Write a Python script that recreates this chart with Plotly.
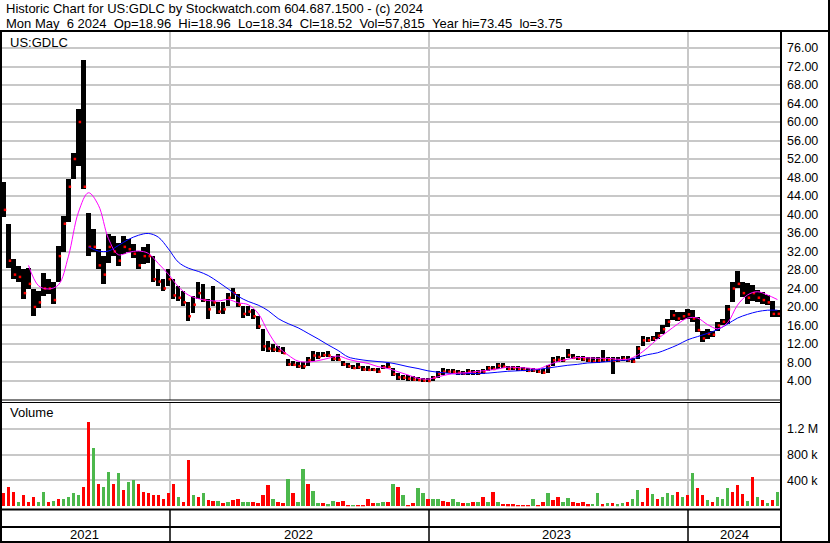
import plotly.graph_objs as go
import pandas as pd

W, H = 830, 543

# weekly samples (May 2021 -> May 6 2024)
weeks = pd.date_range(start="2021-05-12", end="2024-05-06", periods=156)

high = [47, 38, 30.3, 28.9, 28.2, 28.5, 23.9, 23.4, 27.4, 26,
        25.3, 33.2, 39.7, 47.6, 53.4, 62.8, 73.45, 40.4, 36.8, 32.5,
        31, 35.8, 35.4, 33.9, 35.4, 34.6, 33.6, 32.1, 32.9, 33.6,
        31.1, 28.2, 26, 28.2, 26, 24.6, 23.5, 21, 22.4, 25.3,
        25, 21.7, 24.6, 21, 21, 23.1, 24.2, 22.8, 20.3, 20.3,
        19.5, 18.1, 15.2, 12.7, 12, 11.6, 11.3, 8.7, 8.4, 8,
        8, 9.1, 10.5, 10.2, 10.2, 10.5, 9.4, 9.8, 8.3, 7.9,
        7.5, 7.9, 7.2, 7.2, 6.8, 6.8, 7.5, 7.9, 6.8, 5.7,
        5.4, 5.2, 5, 4.9, 4.6, 4.6, 5, 6.1, 6.8, 6.6,
        6.5, 6.3, 6.1, 6.5, 6.3, 6.3, 6.5, 7.3, 7.2, 7.9,
        7.9, 7.2, 7.3, 7.2, 7, 6.8, 6.8, 6.6, 6.5, 7.5,
        9.1, 9.3, 9.1, 10.9, 9.8, 9.5, 9.3, 9.1, 9.1, 9.1,
        10.8, 9.1, 9.1, 9.1, 9.3, 9.3, 8.9, 11.6, 13.8, 13.5,
        13.8, 14.5, 16, 17.5, 19.3, 18.9, 18.9, 19.6, 19.3, 17.8,
        14.9, 15.3, 14.9, 16.7, 17.5, 20.4, 25.5, 27.8, 25.5, 25.1,
        24.7, 23.6, 23.3, 22.5, 21.4, 19.3]
low = [39.5, 28.5, 26, 25.3, 21.7, 23.9, 18.1, 19.8, 22.4, 22.8,
       20.6, 25.3, 31.8, 38.3, 47.6, 50.5, 45.5, 31, 31.8, 28.2,
       24.9, 29.6, 31, 28.9, 31.4, 31.8, 30.6, 28.2, 29.3, 29.6,
       25.3, 24.6, 23.5, 24.6, 21.7, 21.3, 20.3, 17, 18.8, 21.7,
       21, 17.4, 20.3, 18.5, 18.5, 20.3, 21.7, 19.9, 17.7, 18.1,
       17.4, 15.2, 10.5, 10.2, 10.2, 10.2, 9.8, 7.3, 7.3, 6.9,
       6.7, 7.3, 8.4, 8.7, 9.1, 9.1, 8.4, 8.4, 7.2, 6.8,
       6.5, 6.5, 6.1, 6.1, 6.1, 5.7, 6.5, 6.8, 5, 4.3,
       4.3, 4.1, 3.9, 3.9, 3.8, 3.75, 3.9, 4.6, 5.4, 5.7,
       5.6, 5.4, 5.2, 5.4, 5.3, 5.2, 5.6, 6.1, 6.3, 6.6,
       6.8, 6.3, 6.3, 6.1, 6.1, 5.9, 5.9, 5.7, 5.5, 5.7,
       7.3, 8, 8.1, 8.9, 8.7, 8.6, 8.4, 8.1, 7.9, 7.9,
       8.1, 8.1, 5.5, 8.1, 8.4, 8.1, 7.9, 8.7, 11.6, 12.4,
       12.7, 13.1, 14.2, 15.6, 17.1, 16.9, 17.1, 17.5, 16.7, 14.5,
       12.4, 13.1, 13.5, 14.9, 16, 16.4, 21.1, 24, 22.2, 20.7,
       21.4, 21.1, 20.7, 20.4, 17.8, 17.8]
close = [41, 30, 27, 26.5, 23, 25, 20, 21, 24, 24,
         21.5, 31, 38, 46, 52, 60, 46, 33, 33, 29,
         27, 33, 32, 30, 33, 32.5, 31.5, 29, 31, 31,
         26, 25.5, 24, 26, 22.5, 22, 21, 18, 20.5, 23,
         21.5, 19.5, 21, 19, 19.5, 22, 23, 20.5, 18.5, 19,
         18, 15.8, 11.5, 11, 10.8, 10.5, 10, 7.6, 7.5, 7.2,
         7.2, 8.5, 9.5, 9.2, 9.6, 9.5, 8.8, 8.6, 7.6, 7.2,
         6.8, 7, 6.5, 6.4, 6.4, 6, 7, 7, 5.5, 4.8,
         4.7, 4.5, 4.3, 4.2, 4.1, 4, 4.7, 5.6, 6, 6,
         6, 5.8, 5.6, 6, 5.8, 5.7, 6, 6.8, 6.6, 7.3,
         7.1, 6.6, 6.8, 6.5, 6.4, 6.2, 6.3, 6, 5.8, 7,
         8.5, 8.6, 8.5, 9.6, 9, 8.9, 8.7, 8.4, 8.2, 8.4,
         8.6, 8.5, 8.4, 8.5, 8.8, 8.5, 8.2, 11, 12.8, 12.8,
         13.2, 13.8, 15.2, 16.8, 18.2, 17.5, 18, 18.4, 17.5, 15,
         13.2, 14.2, 14, 16, 16.8, 19.5, 24, 25, 23, 22,
         23, 22, 21.5, 21, 18.5, 18.52]

# volume in thousands, and whether the day was up (1) or down (0)
volume_k = [200, 300, 225, 70, 180, 60, 150, 70, 220, 60,
            80, 110, 110, 150, 200, 170, 300, 1300, 900, 340,
            300, 530, 350, 520, 250, 370, 400, 350, 220, 210,
            180, 170, 120, 200, 340, 150, 70, 710, 170, 150,
            210, 100, 80, 80, 45, 70, 100, 110, 60, 70,
            60, 45, 170, 330, 110, 60, 45, 420, 200, 60,
            575, 350, 240, 45, 45, 30, 80, 60, 80, 20,
            25, 25, 25, 120, 45, 45, 60, 70, 350, 300,
            170, 20, 45, 280, 200, 110, 120, 120, 80, 70,
            120, 60, 45, 45, 60, 70, 150, 70, 225, 60,
            40, 30, 30, 20, 20, 20, 110, 20, 60, 200,
            100, 150, 70, 130, 60, 45, 60, 30, 40, 200,
            30, 45, 45, 30, 45, 70, 110, 250, 70, 280,
            195, 110, 150, 200, 170, 225, 150, 170, 510, 280,
            170, 100, 70, 150, 120, 280, 225, 330, 185, 80,
            456, 150, 100, 45, 100, 225]
vol_up = [0, 0, 0, 1, 0, 0, 0, 1, 1, 0,
          1, 0, 1, 1, 1, 1, 0, 0, 1, 0,
          1, 1, 0, 1, 0, 1, 1, 0, 0, 0,
          0, 0, 0, 0, 0, 1, 0, 0, 1, 0,
          1, 0, 0, 1, 0, 1, 0, 0, 1, 1,
          0, 0, 0, 0, 1, 0, 0, 1, 0, 1,
          1, 0, 1, 1, 0, 1, 1, 0, 0, 0,
          1, 0, 0, 0, 0, 1, 1, 0, 1, 0,
          1, 0, 0, 1, 1, 0, 1, 1, 0, 0,
          1, 1, 0, 1, 0, 1, 0, 1, 0, 1,
          0, 0, 0, 0, 0, 0, 1, 0, 0, 1,
          0, 0, 1, 1, 0, 0, 0, 0, 1, 1,
          0, 1, 0, 1, 1, 0, 1, 1, 0, 0,
          1, 0, 1, 1, 1, 0, 1, 0, 1, 0,
          0, 1, 0, 1, 1, 1, 0, 0, 0, 1,
          0, 1, 0, 1, 0, 1]

# moving averages read every second week
ma_fast = [29, 24.6, 23.9, 24.8, 31, 40.5, 44.7, 42, 34.8, 31.3,
           31.8, 32.1, 31.6, 29.4, 27.1, 24.4, 22.6, 21.8, 21.4, 21.3,
           21.6, 20.9, 20.5, 18.6, 14.6, 11.4, 9.6, 8.3, 8.1, 8.4,
           8.9, 9.4, 8.7, 8.2, 7.8, 7.1, 6.7, 6.0, 5.3, 4.6,
           4.4, 4.9, 5.4, 5.7, 5.8, 6.1, 6.3, 6.6, 7.0, 6.9,
           6.8, 6.6, 7.4, 8.2, 8.7, 9.1, 9.0, 8.9, 8.9, 8.7,
           8.7, 9.6, 11.2, 13.1, 14.7, 16.3, 17.6, 17.6, 16.2, 15.3,
           16.6, 20.4, 22.6, 23.3, 22.6, 21.6]
ma_slow = [33, 32.1, 32.1, 33.3, 34.6, 35.5, 35.9, 35.1, 32.6, 29.7,
           28.4, 27.7, 26.8, 25.4, 23.9, 22.3, 21.2, 20.4, 19.2, 17.5,
           16.4, 15.5, 14.3, 13.1, 11.8, 10.6, 9.2, 8.7, 8.4, 8.2,
           8.0, 7.6, 7.1, 6.7, 6.2, 5.9, 5.7, 5.5, 5.6, 5.6,
           5.7, 5.9, 6.1, 6.2, 6.3, 6.5, 6.8, 7.1, 7.4, 7.6,
           7.9, 8.0, 8.2, 8.5, 8.5, 9.1, 9.7, 10.1, 10.9, 11.8,
           12.9, 13.6, 14.3, 15.1, 16.3, 17.6, 18.4, 19.0, 19.3, 19.3]

price_ticks = list(range(4, 77, 4))
year_starts = ["2022-01-01", "2023-01-01", "2024-01-01"]
year_labels = ["2021", "2022", "2023", "2024"]

header1 = "Historic Chart for US:GDLC by Stockwatch.com 604.687.1500 - (c) 2024"
header2 = ("Mon May\u00a0\u00a06 2024\u00a0\u00a0Op=18.96\u00a0\u00a0Hi=18.96\u00a0\u00a0"
           "Lo=18.34\u00a0\u00a0Cl=18.52\u00a0\u00a0Vol=57,815\u00a0\u00a0Year hi=73.45\u00a0\u00a0lo=3.75")

FONT = "Liberation Sans, Arial, sans-serif"
GRID = "#c8c8c8"
DAY = 86400000


def px(x):
    return x / W


def py(y):
    return 1 - y / H


fig = go.Figure()
fig.add_trace(go.Bar(x=weeks, y=[h - l for h, l in zip(high, low)], base=low,
                     width=6 * DAY, marker=dict(color="black", line=dict(width=0)),
                     xaxis="x", yaxis="y"))
fig.add_trace(go.Scatter(x=weeks + pd.Timedelta(days=2), y=close, mode="markers",
                         marker=dict(symbol="square", size=2.5, color="#ff0000", line=dict(width=0)),
                         xaxis="x", yaxis="y"))
fig.add_trace(go.Scatter(x=weeks[17::2], y=ma_slow, mode="lines",
                         line=dict(color="#0000ff", width=1, shape="spline"),
                         xaxis="x", yaxis="y"))
fig.add_trace(go.Scatter(x=weeks[5::2], y=ma_fast, mode="lines",
                         line=dict(color="#ff00ff", width=1, shape="spline"),
                         xaxis="x", yaxis="y"))
fig.add_trace(go.Bar(x=weeks, y=volume_k, width=5 * DAY,
                     marker=dict(color=["#4cb84c" if u else "#ff0000" for u in vol_up], line=dict(width=0)),
                     xaxis="x2", yaxis="y2"))

xrange = ["2021-05-09 19:00", "2024-05-11"]
xcommon = dict(type="date", range=xrange, domain=[px(2), px(781)], tickvals=year_starts,
               showticklabels=False, ticks="", showgrid=True, gridcolor=GRID, gridwidth=1.5,
               zeroline=False, showline=False, fixedrange=True)

fig.update_layout(
    width=W, height=H,
    margin=dict(l=0, r=0, t=0, b=0),
    paper_bgcolor="white", plot_bgcolor="white",
    showlegend=False, bargap=0,
    font=dict(family=FONT, size=13, color="black"),
    xaxis=dict(anchor="y", **xcommon),
    xaxis2=dict(anchor="y2", matches="x", **xcommon),
    yaxis=dict(domain=[py(400), py(32)], range=[-0.11, 79.46], side="right",
               tickvals=price_ticks, ticktext=[f"{v:.2f}" for v in price_ticks],
               tickfont=dict(family=FONT, size=12.5, color="black"), ticklabelstandoff=5,
               showgrid=True, gridcolor=GRID, gridwidth=1.5, zeroline=False, fixedrange=True),
    yaxis2=dict(domain=[py(506.3), py(402)], range=[0, 1615], side="right",
                tickvals=[400, 800, 1200], ticktext=["400 k", "800 k", "1.2 M"],
                tickfont=dict(family=FONT, size=12.5, color="black"), ticklabelstandoff=5,
                showgrid=True, gridcolor=GRID, gridwidth=1.5, zeroline=False, fixedrange=True),
)

# frame lines
lines = [
    (0, 31, W, 31, 2),        # under header
    (1, 31, 1, H, 2),         # left border
    (781, 31, 781, H, 2),     # right edge of plot
    (829, 0, 829, H, 2),      # outer right border
    (0, 400, 781, 400, 1),    # double line under price
    (0, 402.5, 781, 402.5, 1),
    (0, 509.5, 781, 509.5, 2),  # under volume
    (0, 527, 781, 527, 2),
    (0, 542, W, 542, 2),
]
for x0, y0, x1, y1, w in lines:
    fig.add_shape(type="line", xref="paper", yref="paper", x0=px(x0), y0=py(y0),
                  x1=px(x1), y1=py(y1), line=dict(color="black", width=w))
for xs in [170, 429, 688]:
    fig.add_shape(type="line", xref="paper", yref="paper", x0=px(xs), y0=py(510),
                  x1=px(xs), y1=py(542), line=dict(color="black", width=1.5))

texts = [
    (4, 9, header1),
    (4, 23, header2),
    (8, 42, "US:GDLC"),
    (8, 413, "Volume"),
]
for x, y, t in texts:
    fig.add_annotation(x=px(x), y=py(y), xref="paper", yref="paper", text=t, showarrow=False,
                       xanchor="left", yanchor="middle", font=dict(family=FONT, size=13, color="black"))

year_centers = [84, 298, 556, 734]
for xc, t in zip(year_centers, year_labels):
    fig.add_annotation(x=px(xc), y=py(534.5), xref="paper", yref="paper", text=t, showarrow=False,
                       xanchor="center", yanchor="middle", font=dict(family=FONT, size=13, color="black"))

fig.write_html("out.html", config={"displayModeBar": False},
               post_script="document.body.style.margin='0';document.body.style.overflow='hidden';")
